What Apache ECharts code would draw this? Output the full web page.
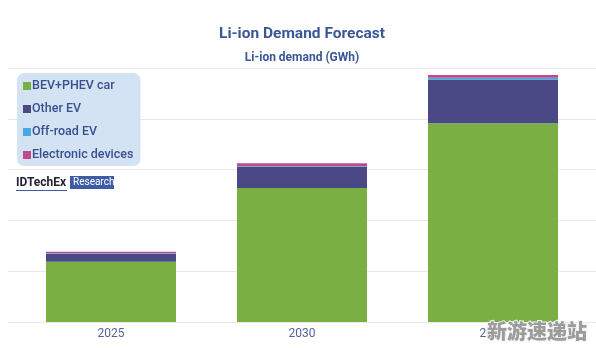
<!DOCTYPE html>
<html>
<head>
<meta charset="utf-8">
<script src="https://cdn.jsdelivr.net/npm/echarts@6/dist/echarts.min.js"></script>
<style>html,body{margin:0;padding:0;background:#fff}#c{width:596px;height:348px}</style>
</head>
<body>
<div id="c"></div>
<script>
// Data (GWh)
var categories = ['2025', '2030', '2035'];
var bevPhevCar = [1185, 2640, 3910];
var otherEV = [160, 410, 865];
var offRoadEV = [10, 15, 32];
var electronicDevices = [30, 60, 55];
var seriesNames = ['BEV+PHEV car', 'Other EV', 'Off-road EV', 'Electronic devices'];
var colors = ['#7aaf44', '#4b4886', '#4aa8e0', '#bf4a8c'];

var chart = echarts.init(document.getElementById('c'));
var font = 'Roboto, "Noto Sans", sans-serif';
var titleColor = '#3a5796';
var gTop = 68, gBottom = 26;

function mk(name, data, i) {
  return {
    name: name, type: 'bar', stack: 'total', data: data,
    xAxisIndex: 1, yAxisIndex: 1, barWidth: 130,
    itemStyle: { color: colors[i] }
  };
}

chart.setOption({
  animation: false,
  textStyle: { fontFamily: font },
  grid: [
    { left: 8, right: 0, top: gTop, bottom: gBottom },
    { left: 15.5, right: 7.5, top: gTop, bottom: gBottom }
  ],
  xAxis: [
    { type: 'category', gridIndex: 0, data: categories, show: false },
    { type: 'category', gridIndex: 1, data: categories,
      axisLine: { show: false }, axisTick: { show: false },
      axisLabel: { color: '#56639a', fontSize: 12, margin: 6, fontFamily: font } }
  ],
  yAxis: [
    { type: 'value', gridIndex: 0, min: 0, max: 5000, interval: 1000,
      axisLabel: { show: false }, axisLine: { show: false }, axisTick: { show: false },
      splitLine: { lineStyle: { color: '#e8e8e8', width: 1 } } },
    { type: 'value', gridIndex: 1, min: 0, max: 5000, interval: 1000, show: false,
      splitLine: { show: false } }
  ],
  legend: {
    orient: 'vertical', left: 17, top: 73,
    backgroundColor: '#d3e3f4', borderRadius: 7,
    padding: [6, 7, 4, 6], itemGap: 9,
    itemWidth: 8, itemHeight: 8, icon: 'rect',
    data: seriesNames,
    textStyle: { color: '#3b4f8f', fontSize: 12.5, fontWeight: 500, fontFamily: font, padding: [0, 0, 0, -4], lineHeight: 14 }
  },
  series: [
    mk(seriesNames[0], bevPhevCar, 0),
    mk(seriesNames[1], otherEV, 1),
    mk(seriesNames[2], offRoadEV, 2),
    mk(seriesNames[3], electronicDevices, 3)
  ],
  graphic: [
    { type: 'text', x: 302, y: 34, style: { text: 'Li-ion Demand Forecast', align: 'center', verticalAlign: 'middle', fontSize: 15.5, fontWeight: 'bold', fill: titleColor, fontFamily: font } },
    { type: 'text', x: 302, y: 58, style: { text: 'Li-ion demand (GWh)', align: 'center', verticalAlign: 'middle', fontSize: 12, fontWeight: 'bold', fill: titleColor, fontFamily: font } },
    { type: 'text', left: 16, top: 177, style: { text: 'IDTechEx', fontSize: 12, fontWeight: 'bold', fill: '#22223a', fontFamily: font } },
    { type: 'rect', left: 16, top: 190, shape: { width: 51, height: 1 }, style: { fill: '#3e5ba3' } },
    { type: 'rect', left: 70, top: 176, shape: { width: 44, height: 13 }, style: { fill: '#3e5ba3' } },
    { type: 'text', left: 73, top: 177.5, style: { text: 'Research', fontSize: 10, fill: '#ffffff', fontFamily: font } },
    { type: 'text', left: 486, top: 320, z: 100, style: { text: '新游速递站', fontSize: 20, fontWeight: 900, fill: '#9c9c9c', stroke: '#f2f2f2', lineWidth: 2, fontFamily: '"Noto Sans CJK SC", sans-serif' } }
  ]
});
</script>
</body>
</html>
